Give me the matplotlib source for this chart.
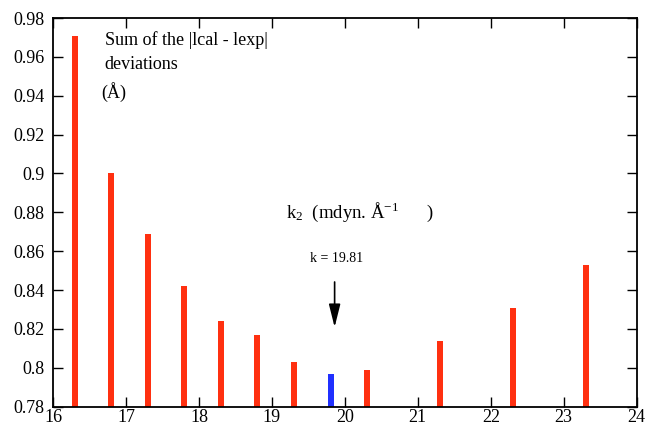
import matplotlib
matplotlib.use('Agg')
import matplotlib.pyplot as plt

# k2 values and summed deviations
k_red = [16.3, 16.8, 17.3, 17.8, 18.3, 18.8, 19.3, 20.3, 21.3, 22.3, 23.3]
dev_red = [0.971, 0.900, 0.869, 0.842, 0.824, 0.817, 0.803, 0.799, 0.814, 0.831, 0.853]
k_best = [19.81]
dev_best = [0.797]

xticks = [16, 17, 18, 19, 20, 21, 22, 23, 24]
yticks = [0.78, 0.80, 0.82, 0.84, 0.86, 0.88, 0.90, 0.92, 0.94, 0.96, 0.98]
ylabels = ['0.78', '0.8', '0.82', '0.84', '0.86', '0.88', '0.9', '0.92', '0.94', '0.96', '0.98']

plt.rcParams['font.family'] = ['Liberation Serif', 'DejaVu Serif']
plt.rcParams['mathtext.fontset'] = 'custom'
plt.rcParams['mathtext.rm'] = 'Liberation Serif'
plt.rcParams['mathtext.it'] = 'Liberation Serif'

fig = plt.figure(figsize=(6.51, 4.29), dpi=100)
ax = fig.add_axes([0.0814, 0.052, 0.8966, 0.906])

ax.bar(k_red, [d - 0.78 for d in dev_red], bottom=0.78, width=0.08, color='#ff3010')
ax.bar(k_best, [d - 0.78 for d in dev_best], bottom=0.78, width=0.08, color='#2030ff')

ax.set_xlim(16, 24)
ax.set_ylim(0.78, 0.98)
ax.set_xticks(xticks)
ax.set_yticks(yticks)
ax.set_yticklabels(ylabels)
ax.tick_params(direction='in', length=7, width=1, top=True, right=True, labelsize=13)
ax.tick_params(axis='x', pad=2)
ax.tick_params(axis='y', pad=6)
for s in ax.spines.values():
    s.set_linewidth(1.3)

# annotations
ax.text(16.71, 0.9687, 'Sum of the |lcal - lexp|', fontsize=13, va='center')
ax.text(16.71, 0.956, 'deviations', fontsize=13, va='center')
ax.text(16.66, 0.942, '(Å)', fontsize=13, va='center')
ax.text(19.2, 0.880, 'k$_2$  (mdyn. Å$^{-1}$      )', fontsize=13.5, va='center')
ax.text(19.52, 0.856, 'k = 19.81', fontsize=10, va='center')
ax.annotate('', xy=(19.86, 0.8195), xytext=(19.86, 0.8456),
            arrowprops=dict(arrowstyle='-|>,head_length=1.0,head_width=0.25',
                            color='k', lw=1.2, mutation_scale=14))

plt.savefig('out.png', dpi=100)
